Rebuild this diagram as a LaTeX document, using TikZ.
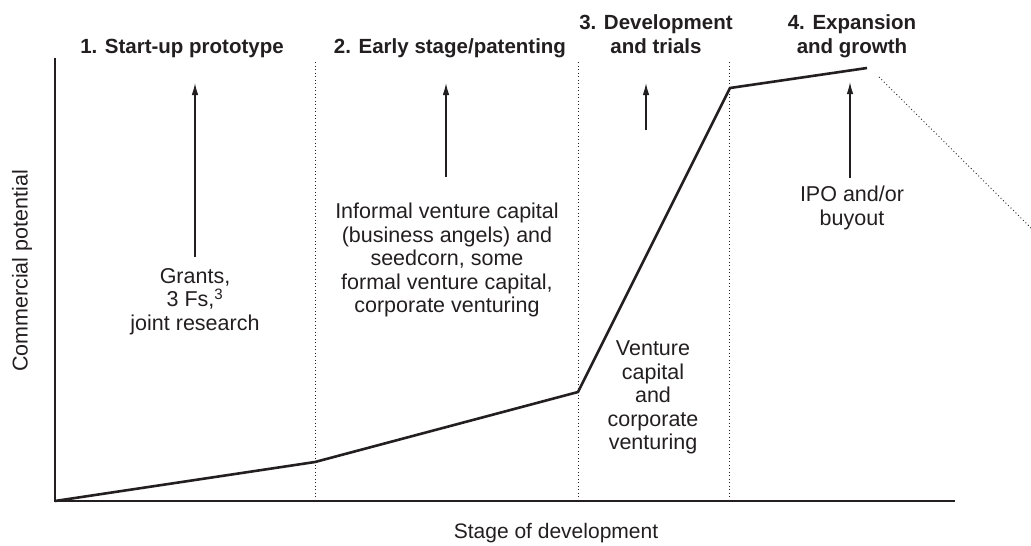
\documentclass[tikz,border=0pt]{standalone}
\usepackage{fontspec}
\setmainfont{Liberation Sans}
\usetikzlibrary{arrows.meta, positioning}

\definecolor{ink}{HTML}{231F20}

\begin{document}
\begin{tikzpicture}[x=1pt, y=-1pt,
        every node/.style={text=ink, align=center, inner sep=0pt},
        title/.style={font=\fontsize{20.5}{24}\selectfont\bfseries},
        body/.style={font=\fontsize{21.5}{23.5}\selectfont, anchor=north},
        axis/.style={draw=ink, line width=1.2pt},
        divider/.style={draw=ink, line width=0.9pt, dash pattern=on 0.9pt off 2.6pt},
        fund/.style={draw=ink, line width=1.3pt, -{Latex[length=12pt,width=6.5pt]}},
        growth/.style={draw=ink, line width=2.6pt, line join=miter}]
        \useasboundingbox (0,0) rectangle (1031,546);

        % Axes
        \coordinate (origin) at (55,501);
        \coordinate (ytop) at (55,58);
        \coordinate (xend) at (955,501);
        \draw[axis] (ytop) -- (origin) -- (xend);
        \node[rotate=90, font=\fontsize{21.5}{24}\selectfont] (ylabel) at (22,271) {Commercial potential};
        \node[anchor=base, font=\fontsize{21}{24}\selectfont] (xlabel) at (556,538) {Stage of development};

        % Stage dividers
        \foreach \x/\name in {315/d1, 578/d2, 729/d3} {
            \coordinate (\name top) at (\x,62);
            \coordinate (\name bot) at (\x,501);
            \draw[divider] (\name top) -- (\name bot);
        }

        % Stage titles
        \node[title, anchor=base] (stage1) at (182,53) {1. Start-up prototype};
        \node[title, anchor=base] (stage2) at (450,53) {2. Early stage/patenting};
        \node[title, anchor=south] (stage3) at (656,54) {3. Development\\and trials};
        \node[title, anchor=south] (stage4) at (852,58) {4. Expansion\\and growth};

        % Commercial potential curve
        \coordinate (p1) at (315,462);
        \coordinate (p2) at (578,392);
        \coordinate (p3) at (730,88);
        \coordinate (p4) at (867,68);
        \draw[growth] (origin) -- (p1) -- (p2) -- (p3) -- (p4);
        \coordinate (fall start) at (879,77);
        \coordinate (fall end) at (1031,228);
        \draw[divider] (fall start) -- (fall end);

        % Funding sources
        \node[body] (grants) at (195,268) {Grants,\\3 Fs,\textsuperscript{3}\\joint research};
        \node[body] (informal) at (447,203) {Informal venture capital\\(business angels) and\\seedcorn, some\\formal venture capital,\\corporate venturing};
        \node[body] (venture) at (653,341) {Venture\\capital\\and\\corporate\\venturing};
        \node[body] (ipo) at (852,186) {IPO and/or\\buyout};

        % Funding arrows
        \foreach \x/\y/\tip in {195/257/83, 446/177/83, 646/130/83, 850/178/82} {
            \coordinate (tail\x) at (\x,\y);
            \coordinate (tip\x) at (\x,\tip);
            \draw[fund] (tail\x) -- (tip\x);
        }
    \end{tikzpicture}
\end{document}
